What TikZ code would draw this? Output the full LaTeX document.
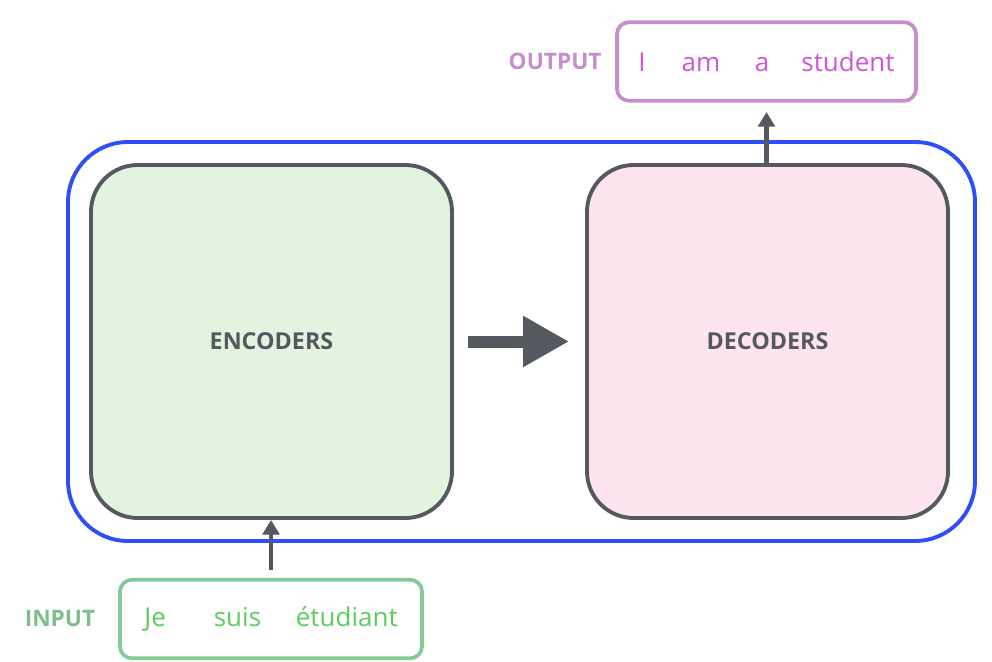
\documentclass[tikz,border=0pt]{standalone}
\usepackage{fontspec}
\setmainfont{Open Sans}
\usetikzlibrary{arrows.meta,positioning}
\definecolor{wrapblue}{RGB}{46,78,250}
\definecolor{boxgray}{RGB}{84,89,96}
\definecolor{encfill}{RGB}{226,244,224}
\definecolor{decfill}{RGB}{253,228,239}
\definecolor{outline}{RGB}{198,142,204}
\definecolor{outtext}{RGB}{208,84,216}
\definecolor{inline}{RGB}{132,202,150}
\definecolor{intext}{RGB}{92,204,94}
\definecolor{inlabel}{RGB}{124,190,140}
\begin{document}
\begin{tikzpicture}[
  x=0.75pt,y=-0.75pt,
  block/.style={draw=boxgray,line width=2.9pt,rounded corners=35pt,
                minimum width=270.75pt,minimum height=264.75pt,inner sep=0pt,
                font=\fontsize{17.5}{20}\selectfont\bfseries,text=boxgray},
  wrap/.style={draw=wrapblue,line width=2.9pt,rounded corners=45pt,
               minimum width=680.25pt,minimum height=299.25pt,inner sep=0pt},
  seq/.style={line width=2.8pt,rounded corners=9pt,inner sep=0pt,
              minimum height=59pt,font=\fontsize{19.5}{22}\selectfont},
  tag/.style={inner sep=0pt,font=\fontsize{17}{20}\selectfont\bfseries},
  feed/.style={-{Triangle[length=11pt,width=12.5pt]},line width=3.2pt,draw=boxgray}
]
  \useasboundingbox (0,0) rectangle (992,661);

  \node[wrap] (model) at (521.5,341.5) {};
  \node[block,fill=encfill] (enc) at (271.5,341.5) {ENCODERS};
  \node[block,fill=decfill] (dec) at (767.5,341.5) {DECODERS};
  \draw[boxgray,line width=9pt,shorten <=10.5pt,shorten >=12pt,
        -{Triangle[length=34.5pt,width=36pt]}] (enc.east) -- (dec.west);

  % output sentence
  \node[seq,draw=outline,text=outtext,minimum width=224.25pt] (out) at (766.5,61.5)
    {I\hspace{27pt}am\hspace{26pt}a\hspace{24pt}student};
  \node[tag,text=outline,left=10pt of out] (outlbl) {OUTPUT};
  \draw[feed,shorten >=7pt] (out.south |- dec.north) -- (out.south);

  % input sentence
  \node[seq,draw=inline,text=intext,minimum width=226.5pt] (inp) at (271,619)
    {Je\hspace{36pt}suis\hspace{26pt}étudiant};
  \node[tag,text=inlabel,left=17pt of inp] (inlbl) {INPUT};
  \draw[feed,shorten <=6pt] (inp.north) -- (inp.north |- enc.south);
\end{tikzpicture}
\end{document}
